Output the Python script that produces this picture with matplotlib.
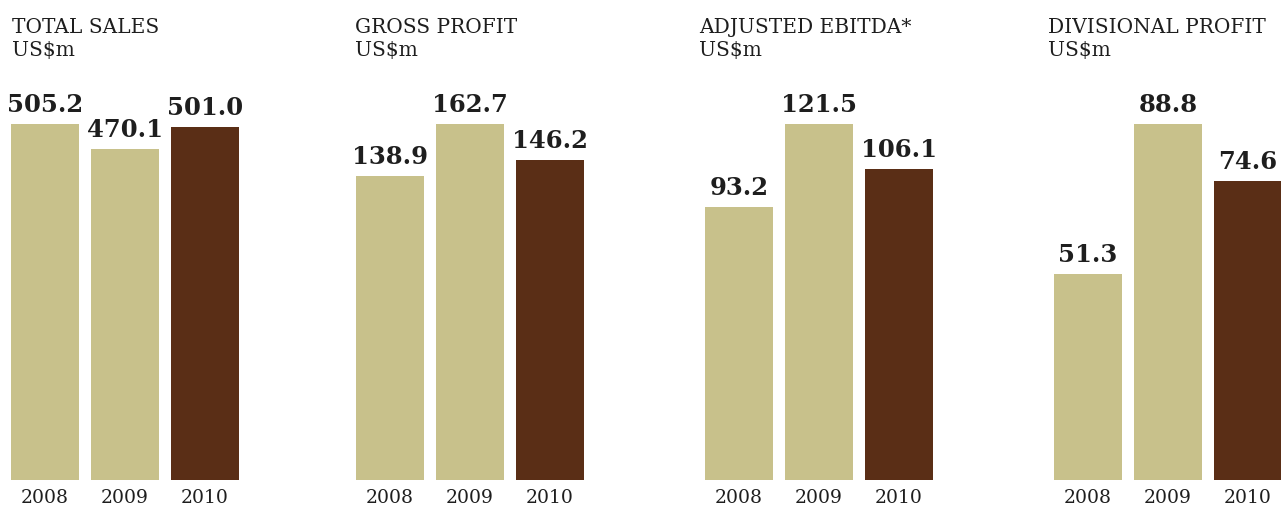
import matplotlib.pyplot as plt

plt.rcParams['font.family'] = ['DejaVu Serif']

titles = ["TOTAL SALES", "GROSS PROFIT", "ADJUSTED EBITDA*", "DIVISIONAL PROFIT"]
years = ["2008", "2009", "2010"]
sales = [505.2, 470.1, 501.0]
gross_profit = [138.9, 162.7, 146.2]
ebitda = [93.2, 121.5, 106.1]
divisional_profit = [51.3, 88.8, 74.6]
series = [sales, gross_profit, ebitda, divisional_profit]

tan = "#c8c18b"
brown = "#5a2e16"
ink = "#1e1e1e"

W, H = 1281, 505
fig = plt.figure(figsize=(W / 100, H / 100), dpi=100)
fig.patch.set_facecolor("white")

panel_left = [11, 356, 705, 1054]
title_left = [12, 355, 699, 1048]
bar_w = 0.85

for i, vals in enumerate(series):
    x0 = panel_left[i]
    ax = fig.add_axes([x0 / W, 25 / H, 228 / W, 356 / H])
    colors = [tan, tan, brown]
    ax.bar(range(3), vals, width=bar_w, color=colors)
    ax.set_xlim(-bar_w / 2, 2 + bar_w / 2)
    ax.set_ylim(0, max(vals))
    ax.axis("off")
    for j, v in enumerate(vals):
        ax.annotate(f"{v:.1f}", (j, v), xytext=(0, 8.6), textcoords="offset points",
                    ha="center", va="baseline", fontsize=17.5, fontweight="heavy",
                    color=ink, annotation_clip=False)
        ax.annotate(years[j], (j, 0), xytext=(0, -16.3), textcoords="offset points",
                    ha="center", va="baseline", fontsize=13.5, color=ink,
                    annotation_clip=False)
    fig.text(title_left[i] / W, 1 - 33 / H, titles[i], fontsize=14.5, color=ink,
             ha="left", va="baseline")
    fig.text(title_left[i] / W, 1 - 56 / H, "US$m", fontsize=14.5, color=ink,
             ha="left", va="baseline")

fig.savefig("out.png", dpi=100)
